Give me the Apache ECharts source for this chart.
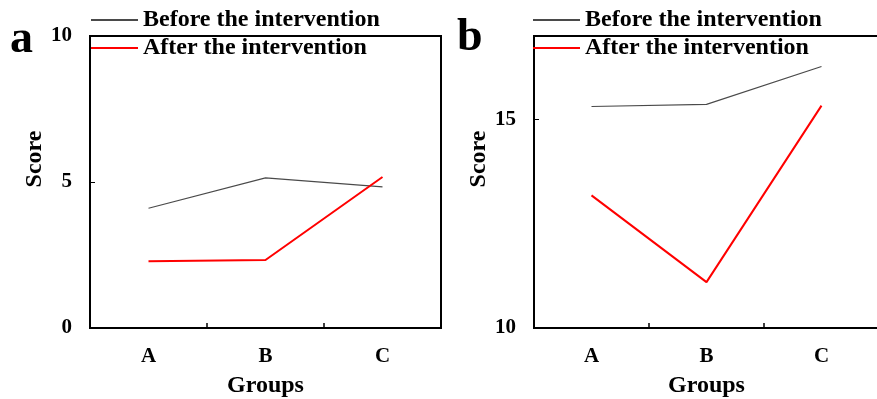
<!DOCTYPE html>
<html>
<head>
<meta charset="utf-8">
<script src="https://cdn.jsdelivr.net/npm/echarts@6/dist/echarts.min.js"></script>
<style>
  html, body { margin: 0; padding: 0; background: #fff; }
  #main { width: 877px; height: 399px; }
</style>
</head>
<body>
<div id="main"></div>
<script>
// data
const groups = ['A', 'B', 'C'];
const beforeA = [4.1, 5.14, 4.83];
const afterA = [2.29, 2.33, 5.17];
const beforeB = [15.31, 15.36, 16.27];
const afterB = [13.18, 11.1, 15.33];
const seriesNames = ['Before the intervention', 'After the intervention'];

const serif = "'Times New Roman', 'Liberation Serif', serif";
const grayLine = '#4a4a4a';
const redLine = '#ff0000';

let myChart = echarts.init(document.getElementById('main'));

function xAxisFor(idx) {
    return {
        type: 'category',
        gridIndex: idx,
        data: groups,
        boundaryGap: true,
        name: 'Groups',
        nameLocation: 'middle',
        nameGap: 46,
        nameTextStyle: { fontFamily: serif, fontWeight: 'bold', fontSize: 24, color: '#000' },
        axisLine: { lineStyle: { color: '#000', width: 2 } },
        axisTick: { show: true, inside: true, length: 5, alignWithLabel: false, lineStyle: { color: '#000', width: 1.5 } },
        axisLabel: { fontFamily: serif, fontWeight: 'bold', fontSize: 21, color: '#000', margin: 18 },
        splitLine: { show: false }
    };
}

function yAxisFor(idx, min, max) {
    return {
        type: 'value',
        gridIndex: idx,
        min: min,
        max: max,
        interval: 5,
        name: 'Score',
        nameLocation: 'middle',
        nameGap: 42,
        nameRotate: 90,
        nameTextStyle: { fontFamily: serif, fontWeight: 'bold', fontSize: 24, color: '#000', padding: [0, 0, 0, 46] },
        axisLine: { show: true, lineStyle: { color: '#000', width: 2 } },
        axisTick: { show: true, inside: true, length: 5, lineStyle: { color: '#000', width: 1 } },
        axisLabel: { fontFamily: serif, fontWeight: 'bold', fontSize: 21, color: '#000', margin: 18, showMaxLabel: max === 10 },
        splitLine: { show: false }
    };
}

function legendFor(left) {
    return {
        orient: 'vertical',
        left: left,
        top: 8,
        padding: 0,
        itemWidth: 47,
        itemHeight: 2,
        itemGap: 4,
        icon: 'rect',
        textStyle: { fontFamily: serif, fontWeight: 'bold', fontSize: 24, color: '#000', lineHeight: 24 },
        data: seriesNames
    };
}

let option = {
    backgroundColor: '#fff',
    animation: false,
    title: [
        { text: 'a', left: 5, top: 12, textStyle: { fontFamily: serif, fontWeight: 'bold', fontSize: 46, color: '#000' } },
        { text: 'b', left: 452, top: 10, textStyle: { fontFamily: serif, fontWeight: 'bold', fontSize: 46, color: '#000' } }
    ],
    legend: [legendFor(91), legendFor(533)],
    grid: [
        { left: 90, top: 36, right: 436, bottom: 71, show: true, borderColor: '#000', borderWidth: 2, containLabel: false, outerBoundsMode: 'none' },
        { left: 534, top: 36, right: -2, bottom: 71, show: true, borderColor: '#000', borderWidth: 2, containLabel: false, outerBoundsMode: 'none' }
    ],
    xAxis: [xAxisFor(0), xAxisFor(1)],
    yAxis: [yAxisFor(0, 0, 10), yAxisFor(1, 10, 17)],
    series: [
        { name: seriesNames[0], type: 'line', xAxisIndex: 0, yAxisIndex: 0, data: beforeA, symbol: 'none', color: grayLine, lineStyle: { width: 1.2, color: grayLine } },
        { name: seriesNames[1], type: 'line', xAxisIndex: 0, yAxisIndex: 0, data: afterA, symbol: 'none', color: redLine, lineStyle: { width: 2, color: redLine } },
        { name: seriesNames[0], type: 'line', xAxisIndex: 1, yAxisIndex: 1, data: beforeB, symbol: 'none', color: grayLine, lineStyle: { width: 1.2, color: grayLine } },
        { name: seriesNames[1], type: 'line', xAxisIndex: 1, yAxisIndex: 1, data: afterB, symbol: 'none', color: redLine, lineStyle: { width: 2, color: redLine } }
    ]
};

myChart.setOption(option);
</script>
</body>
</html>
